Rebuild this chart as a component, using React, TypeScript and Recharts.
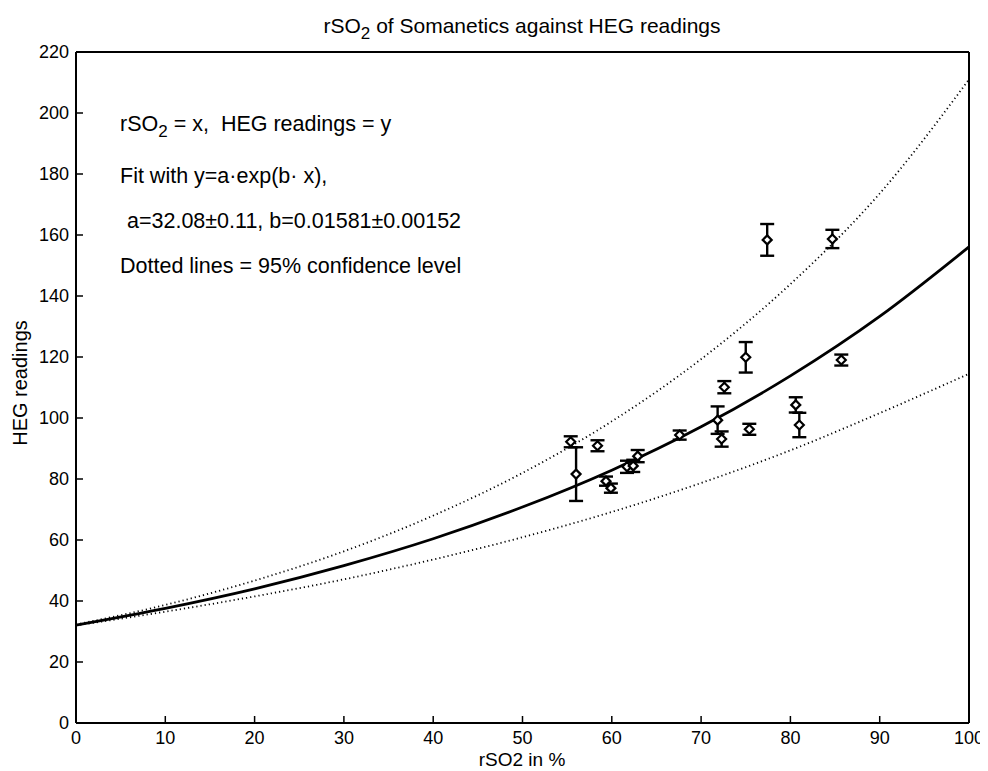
import { ComposedChart, Line, Scatter, XAxis, YAxis, ErrorBar } from "recharts"

const xTicks = [0, 10, 20, 30, 40, 50, 60, 70, 80, 90, 100]
const yTicks = [0, 20, 40, 60, 80, 100, 120, 140, 160, 180, 200, 220]

// measured points (rSO2 %, HEG reading, error half-height)
const pointX = [55.4, 56.0, 58.4, 59.35, 59.9, 61.7, 62.4, 62.9, 67.6, 71.85, 72.3, 72.6, 75.0, 75.4, 77.4, 80.6, 81.0, 84.7, 85.7]
const pointY = [92.2, 81.6, 90.9, 79.3, 77.0, 84.0, 84.3, 87.5, 94.4, 99.3, 93.1, 110.1, 119.9, 96.3, 158.4, 104.3, 97.7, 158.7, 119.0]
const pointErr = [1.8, 8.8, 1.8, 1.5, 1.5, 2.0, 2.0, 2.0, 1.5, 4.5, 2.5, 2.0, 5.0, 1.8, 5.2, 2.5, 4.0, 3.0, 1.8]

// fit curve and 95% band, every 10 %
const fitX = [0, 10, 20, 30, 40, 50, 60, 70, 80, 90, 100]
const fitMain = [32.1, 37.6, 44.0, 51.6, 60.4, 70.8, 82.9, 97.1, 113.8, 133.3, 156.1]
const fitUpper = [32.3, 38.7, 46.7, 56.3, 68.0, 82.0, 98.9, 119.3, 143.9, 173.6, 211]
const fitLower = [32.0, 36.5, 41.5, 47.1, 53.6, 60.9, 69.2, 78.7, 89.4, 101.6, 114.5]

const points = pointX.map((x, i) => ({ x, y: pointY[i], err: pointErr[i] }))
const mainData = fitX.map((x, i) => ({ x, y: fitMain[i] }))
const upperData = fitX.map((x, i) => ({ x, y: fitUpper[i] }))
const lowerData = fitX.map((x, i) => ({ x, y: fitLower[i] }))

const font = "'Liberation Sans', Arial, sans-serif"
const TICK = 7

const Diamond = (props: any) => {
  const { cx, cy } = props
  const r = 4.5
  return (
    <polygon
      points={`${cx},${cy - r} ${cx + r},${cy} ${cx},${cy + r} ${cx - r},${cy}`}
      fill="#fff"
      stroke="#000"
      strokeWidth={2.2}
    />
  )
}

// inward ticks, MATLAB style
const BottomTick = (props: any) => {
  const { x, y, payload } = props
  return (
    <g>
      <line x1={x} y1={y} x2={x} y2={y - TICK} stroke="#000" strokeWidth={1.5} />
      <text x={x} y={y + 21} textAnchor="middle" fontSize={18} fontFamily={font} fill="#000">
        {payload.value}
      </text>
    </g>
  )
}
const TopTick = (props: any) => {
  const { x, y } = props
  return <line x1={x} y1={y} x2={x} y2={y + TICK} stroke="#000" strokeWidth={1.5} />
}
const LeftTick = (props: any) => {
  const { x, y, payload } = props
  return (
    <g>
      <line x1={x} y1={y} x2={x + TICK} y2={y} stroke="#000" strokeWidth={1.5} />
      <text x={x - 7} y={y + 6} textAnchor="end" fontSize={18} fontFamily={font} fill="#000">
        {payload.value}
      </text>
    </g>
  )
}
const RightTick = (props: any) => {
  const { x, y } = props
  return <line x1={x} y1={y} x2={x - TICK} y2={y} stroke="#000" strokeWidth={1.5} />
}

const axisLine = { stroke: "#000", strokeWidth: 2 }

export default function App() {
  return (
    <div style={{ position: "relative", width: 980, height: 763 }}>
      <ComposedChart width={980} height={763} margin={{ top: 43, right: 18, bottom: 8, left: 8 }}>
        <XAxis
          xAxisId="b"
          dataKey="x"
          type="number"
          domain={[0, 100]}
          ticks={xTicks}
          interval={0}
          height={40}
          tickSize={0}
          tickMargin={0}
          axisLine={axisLine}
          tickLine={false}
          tick={BottomTick}
        />
        <XAxis
          xAxisId="t"
          dataKey="x"
          type="number"
          orientation="top"
          domain={[0, 100]}
          ticks={xTicks}
          interval={0}
          height={1}
          tickSize={0}
          tickMargin={0}
          axisLine={axisLine}
          tickLine={false}
          tick={TopTick}
        />
        <YAxis
          yAxisId="l"
          type="number"
          domain={[0, 220]}
          ticks={yTicks}
          interval={0}
          width={60}
          tickSize={0}
          tickMargin={0}
          axisLine={axisLine}
          tickLine={false}
          tick={LeftTick}
        />
        <YAxis
          yAxisId="r"
          type="number"
          orientation="right"
          domain={[0, 220]}
          ticks={yTicks}
          interval={0}
          width={1}
          tickSize={0}
          tickMargin={0}
          axisLine={axisLine}
          tickLine={false}
          tick={RightTick}
        />
        <Line
          xAxisId="b"
          yAxisId="l"
          data={upperData}
          dataKey="y"
          type="monotone"
          stroke="#000"
          strokeWidth={1.8}
          strokeDasharray="1.2 3"
          dot={false}
          activeDot={false}
          isAnimationActive={false}
        />
        <Line
          xAxisId="b"
          yAxisId="l"
          data={lowerData}
          dataKey="y"
          type="monotone"
          stroke="#000"
          strokeWidth={1.8}
          strokeDasharray="1.2 3"
          dot={false}
          activeDot={false}
          isAnimationActive={false}
        />
        <Line
          xAxisId="b"
          yAxisId="l"
          data={mainData}
          dataKey="y"
          type="monotone"
          stroke="#000"
          strokeWidth={2.8}
          dot={false}
          activeDot={false}
          isAnimationActive={false}
        />
        <Scatter
          xAxisId="b"
          yAxisId="l"
          data={points}
          dataKey="y"
          shape={Diamond}
          isAnimationActive={false}
        >
          <ErrorBar dataKey="err" direction="y" width={7} strokeWidth={2.4} stroke="#000" />
        </Scatter>
      </ComposedChart>

      <svg
        width={980}
        height={763}
        style={{ position: "absolute", left: 0, top: 0, pointerEvents: "none" }}
        fontFamily={font}
        fill="#000"
      >
        <text x={514} y={25} textAnchor="middle" fontSize={21}>
          rSO<tspan fontSize={17} dy={6}>2</tspan>
          <tspan dy={-6}> of Somanetics against HEG readings</tspan>
        </text>

        <g fontSize={21.5}>
          <text x={112} y={123}>
            rSO<tspan fontSize={17} dy={6}>2</tspan>
            <tspan dy={-6} xmlSpace="preserve"> = x,  HEG readings = y</tspan>
          </text>
          <text x={112} y={175}>Fit with y=a·exp(b· x),</text>
          <text x={119} y={220}>a=32.08±0.11, b=0.01581±0.00152</text>
          <text x={112} y={265}>Dotted lines = 95% confidence level</text>
        </g>

        <text x={19} y={375} textAnchor="middle" fontSize={20} transform="rotate(-90 19 375)">
          HEG readings
        </text>
        <text x={514} y={758} textAnchor="middle" fontSize={19}>
          rSO2 in %
        </text>
      </svg>
    </div>
  )
}
